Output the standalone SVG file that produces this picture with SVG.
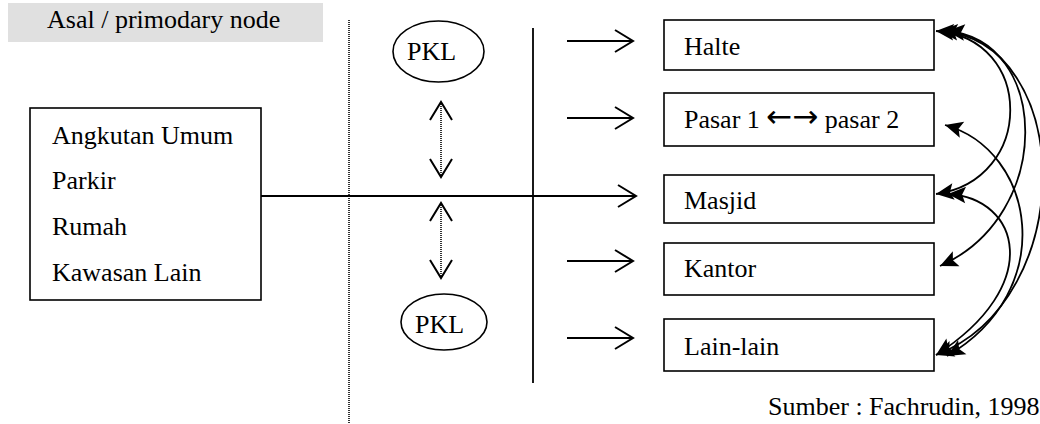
<svg xmlns="http://www.w3.org/2000/svg" width="1040" height="424" viewBox="0 0 1040 424">
  <style>
    text { font-family: "Liberation Serif", "Times New Roman", Times, serif; font-size: 26px; fill: #000; }
    .sym { font-family: "DejaVu Sans", sans-serif; font-size: 31px; }
    .box { fill: #fff; stroke: #000; stroke-width: 1.6; }
    .line { fill: none; stroke: #000; stroke-width: 1.8; }
    .dot { fill: none; stroke: #000; stroke-width: 1.6; stroke-dasharray: 1 1; }
    .curve { fill: none; stroke: #000; stroke-width: 1.8; }
  </style>
  <defs>
    <marker id="open" markerUnits="userSpaceOnUse" markerWidth="30" markerHeight="30" viewBox="-20 -15 25 30" refX="0" refY="0" orient="auto-start-reverse" overflow="visible">
      <path d="M-18,-11 L0,0 L-18,11" fill="none" stroke="#000" stroke-width="2" stroke-dasharray="none"/>
    </marker>
    <marker id="solid" markerUnits="userSpaceOnUse" markerWidth="20" markerHeight="20" viewBox="-16 -8 17 16" refX="0" refY="0" orient="auto-start-reverse" overflow="visible">
      <path d="M0,0 L-15,-7 L-12,0 L-15,7 Z" fill="#000"/>
    </marker>
  </defs>

  <!-- heading -->
  <g id="heading">
    <rect x="8" y="3" width="315" height="39" fill="#e0e0e0"/>
    <text x="47" y="28">Asal / primodary node</text>
  </g>

  <!-- origin box -->
  <g id="origin">
    <rect class="box" x="30" y="108" width="231" height="192"/>
    <text x="52" y="144">Angkutan Umum</text>
    <text x="52" y="189">Parkir</text>
    <text x="52" y="235">Rumah</text>
    <text x="52" y="281">Kawasan Lain</text>
  </g>

  <!-- street vendors -->
  <g id="pkl-top">
    <ellipse cx="438.5" cy="51.5" rx="45.5" ry="30.5" fill="#fff" stroke="#000" stroke-width="1.6"/>
    <text x="407" y="60">PKL</text>
  </g>
  <g id="pkl-bottom">
    <ellipse cx="444" cy="322" rx="43" ry="28" fill="#fff" stroke="#000" stroke-width="1.6"/>
    <text x="415" y="333">PKL</text>
  </g>

  <!-- destinations -->
  <g id="halte">
    <rect class="box" x="664" y="20" width="270" height="50"/>
    <text x="684" y="55">Halte</text>
  </g>
  <g id="pasar">
    <rect class="box" x="664" y="93" width="270" height="53"/>
    <text x="684" y="128">Pasar 1 <tspan class="sym" dy="-1">←→</tspan><tspan dy="1"> pasar 2</tspan></text>
  </g>
  <g id="masjid">
    <rect class="box" x="664" y="175" width="270" height="48"/>
    <text x="684" y="209">Masjid</text>
  </g>
  <g id="kantor">
    <rect class="box" x="664" y="243" width="270" height="52"/>
    <text x="684" y="277">Kantor</text>
  </g>
  <g id="lain-lain">
    <rect class="box" x="664" y="319" width="270" height="52"/>
    <text x="684" y="355">Lain-lain</text>
  </g>

  <!-- source note -->
  <g id="source">
    <text x="768" y="415">Sumber : Fachrudin, 1998</text>
  </g>

  <!-- connectors -->
  <g id="connectors">
    <!-- dividers -->
    <line class="dot" x1="349" y1="20" x2="349" y2="424"/>
    <line class="line" x1="533" y1="28" x2="533" y2="383"/>

    <!-- main flow -->
    <line class="line" x1="261" y1="196" x2="636" y2="196" marker-end="url(#open)"/>

    <!-- vendor movement -->
    <line class="dot" x1="441" y1="102" x2="441" y2="177" marker-start="url(#open)" marker-end="url(#open)"/>
    <line class="dot" x1="441" y1="203" x2="441" y2="278" marker-start="url(#open)" marker-end="url(#open)"/>

    <!-- flows to destinations -->
    <line class="line" x1="567" y1="41" x2="633" y2="41" marker-end="url(#open)"/>
    <line class="line" x1="567" y1="118" x2="633" y2="118" marker-end="url(#open)"/>
    <line class="line" x1="567" y1="261" x2="633" y2="261" marker-end="url(#open)"/>
    <line class="line" x1="567" y1="338" x2="633" y2="338" marker-end="url(#open)"/>

    <!-- links between destinations -->
    <path class="curve" d="M936,31 C1035,38 1035,180 936,194" marker-start="url(#solid)" marker-end="url(#solid)"/>
    <path class="curve" d="M947,31 C1050,40 1055,215 940,266" marker-start="url(#solid)" marker-end="url(#solid)"/>
    <path class="curve" d="M940,31 C1075,40 1080,300 936,355" marker-start="url(#solid)" marker-end="url(#solid)"/>
    <path class="curve" d="M945,125 C1035,150 1060,290 947,356" marker-start="url(#solid)" marker-end="url(#solid)"/>
    <path class="curve" d="M948,194 C1020,198 1045,285 936,355" marker-start="url(#solid)" marker-end="url(#solid)"/>
  </g>
</svg>
